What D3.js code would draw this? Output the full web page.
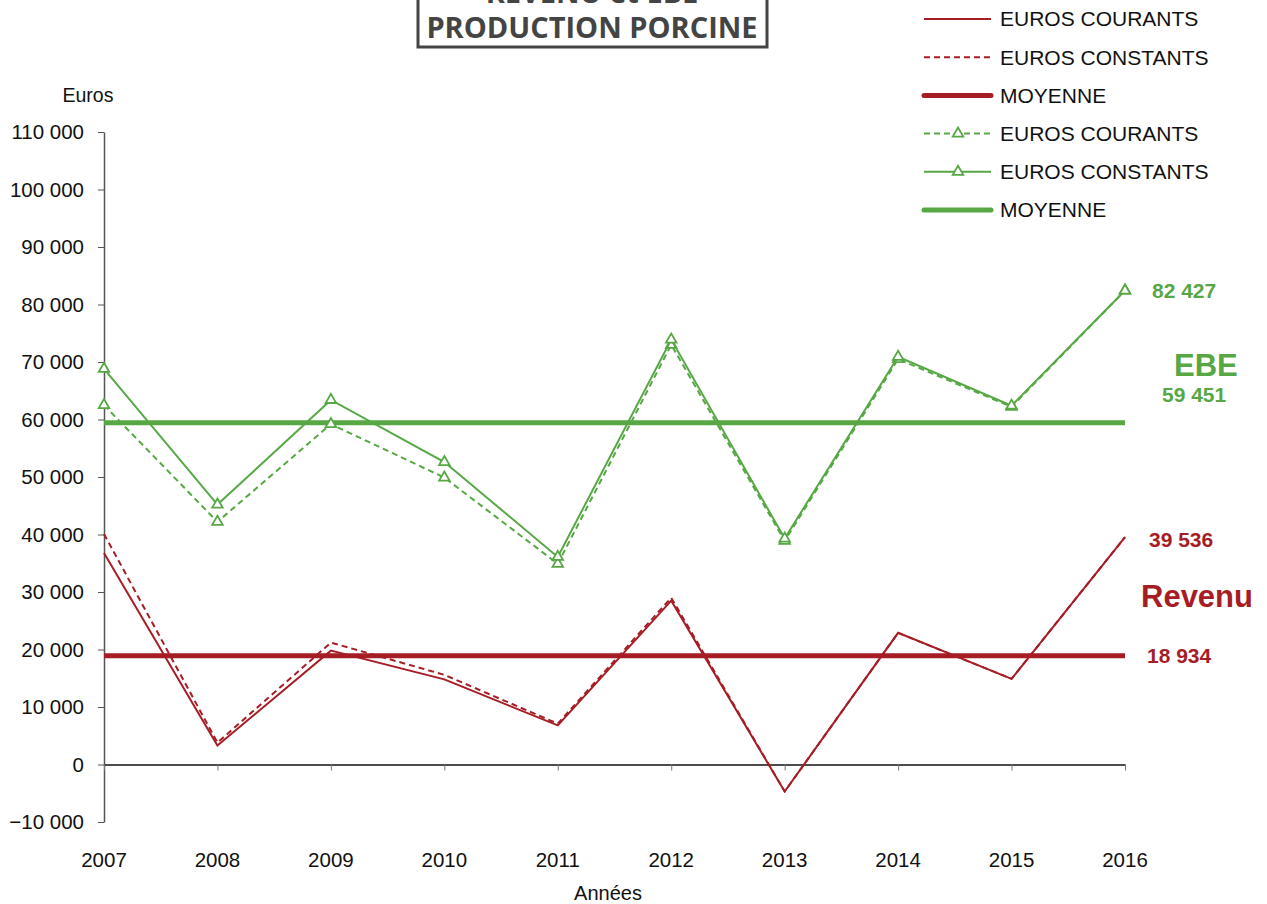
<!DOCTYPE html>
<html>
<head>
<meta charset="utf-8">
<script src="https://cdn.jsdelivr.net/npm/d3@7"></script>
<style>
  body { margin: 0; background: #fff; }
  svg text { font-family: Arial, "Liberation Sans", sans-serif; }
</style>
</head>
<body>
<div id="chart"></div>
<script>
// DATA
const years = ['2007', '2008', '2009', '2010', '2011', '2012', '2013', '2014', '2015', '2016'];
const revenuCourants = [36800, 3300, 19800, 14800, 6800, 28500, -4700, 22900, 14900, 39536];
const revenuConstants = [40100, 3800, 21200, 15600, 7100, 29000, -4700, 22900, 14900, 39536];
const revenuMoyenne = 18934;
const ebeCourants = [62500, 42200, 59200, 49900, 34900, 73000, 38900, 70500, 62200, 82427];
const ebeConstants = [68800, 45200, 63400, 52600, 36100, 73900, 39300, 70900, 62400, 82427];
const ebeMoyenne = 59451;
const yTicks = [-10000, 0, 10000, 20000, 30000, 40000, 50000, 60000, 70000, 80000, 90000, 100000, 110000];
const legendLabels = ['EUROS COURANTS', 'EUROS CONSTANTS', 'MOYENNE', 'EUROS COURANTS', 'EUROS CONSTANTS', 'MOYENNE'];

const RED = '#a61d25';
const GREEN = '#57a845';

const width = 1267;
const height = 904;
const svg = d3.select('#chart').append('svg')
  .attr('width', width)
  .attr('height', height);

// SCALES
const x = d3.scalePoint().domain(years).range([104, 1125]);
const y = d3.scaleLinear().domain([-10000, 110000]).range([822, 132]);
const fmt = v => d3.format(',')(v).replace(/,/g, ' ');

// AXES
const yAxis = svg.append('g')
  .attr('transform', 'translate(104,0)')
  .call(d3.axisLeft(y).tickValues(yTicks).tickSize(6).tickSizeOuter(0).tickPadding(14).tickFormat(fmt));
yAxis.select('.domain').attr('stroke', '#555').attr('stroke-width', 1.5);
yAxis.selectAll('.tick line').attr('stroke', '#555');
yAxis.selectAll('text').attr('font-size', 20.5).attr('fill', '#111');

const xAxis = svg.append('g')
  .attr('transform', `translate(0,${y(0)})`)
  .call(d3.axisBottom(x).tickSize(6).tickSizeOuter(0).tickFormat(''));
xAxis.select('.domain').attr('stroke', '#111').attr('stroke-width', 1.5);
xAxis.selectAll('.tick line').attr('stroke', '#777');

svg.append('g').selectAll('text')
  .data(years).enter()
  .append('text')
  .attr('x', d => x(d))
  .attr('y', 867)
  .attr('text-anchor', 'middle')
  .attr('font-size', 20.5)
  .attr('fill', '#111')
  .text(d => d);

svg.append('text').attr('x', 608).attr('y', 900).attr('text-anchor', 'middle')
  .attr('font-size', 20).attr('fill', '#111').text('Années');
svg.append('text').attr('x', 88).attr('y', 102).attr('text-anchor', 'middle')
  .attr('font-size', 19.5).attr('fill', '#111').text('Euros');

// LINES
const line = d3.line().x((d, i) => x(years[i])).y(d => y(d));
const tri = d3.symbol().type(d3.symbolTriangle).size(48);

function drawSeries(values, color, dash, markers) {
  svg.append('path')
    .datum(values)
    .attr('d', line)
    .attr('fill', 'none')
    .attr('stroke', color)
    .attr('stroke-width', 2)
    .attr('stroke-dasharray', dash);
  if (markers) {
    svg.append('g').selectAll('path')
      .data(values).enter()
      .append('path')
      .attr('d', tri)
      .attr('transform', (d, i) => `translate(${x(years[i])},${y(d)})`)
      .attr('fill', '#fff')
      .attr('stroke', color)
      .attr('stroke-width', 1.8);
  }
}

function drawMean(value, color) {
  svg.append('line')
    .attr('x1', x(years[0])).attr('x2', x(years[years.length - 1]))
    .attr('y1', y(value)).attr('y2', y(value))
    .attr('stroke', color)
    .attr('stroke-width', 5);
}

drawMean(ebeMoyenne, GREEN);
drawMean(revenuMoyenne, RED);
drawSeries(revenuConstants, RED, '6,4', false);
drawSeries(revenuCourants, RED, null, false);
drawSeries(ebeCourants, GREEN, '6,4', true);
drawSeries(ebeConstants, GREEN, null, true);

// ANNOTATIONS
const lastIdx = years.length - 1;
const notes = [
  { t: fmt(ebeConstants[lastIdx]), xx: 1152, v: ebeConstants[lastIdx], c: GREEN, s: 21 },
  { t: 'EBE', xx: 1174, v: 69500, c: GREEN, s: 31 },
  { t: fmt(ebeMoyenne), xx: 1162, v: ebeMoyenne + 4800, c: GREEN, s: 21 },
  { t: fmt(revenuCourants[lastIdx]), xx: 1149, v: revenuCourants[lastIdx] - 500, c: RED, s: 21 },
  { t: 'Revenu', xx: 1141, v: 29200, c: RED, s: 31 },
  { t: fmt(revenuMoyenne), xx: 1147, v: revenuMoyenne, c: RED, s: 21 }
];
svg.append('g').selectAll('text')
  .data(notes).enter()
  .append('text')
  .attr('x', d => d.xx)
  .attr('y', d => y(d.v))
  .attr('dy', '0.35em')
  .attr('font-size', d => d.s)
  .attr('font-weight', 'bold')
  .attr('fill', d => d.c)
  .text(d => d.t);

// LEGEND
const legendStyles = [
  { c: RED, w: 2, dash: null, m: false },
  { c: RED, w: 2, dash: '6,4', m: false },
  { c: RED, w: 5, dash: null, m: false },
  { c: GREEN, w: 2, dash: '6,4', m: true },
  { c: GREEN, w: 2, dash: null, m: true },
  { c: GREEN, w: 5, dash: null, m: false }
];
const legend = svg.append('g');
legendLabels.forEach((lab, i) => {
  const ly = 19 + i * 38.2;
  const st = legendStyles[i];
  legend.append('line')
    .attr('x1', 924).attr('x2', 991).attr('y1', ly).attr('y2', ly)
    .attr('stroke', st.c).attr('stroke-width', st.w)
    .attr('stroke-linecap', st.w > 3 ? 'round' : 'butt')
    .attr('stroke-dasharray', st.dash);
  if (st.m) {
    legend.append('path').attr('d', tri)
      .attr('transform', `translate(958,${ly})`)
      .attr('fill', '#fff').attr('stroke', st.c).attr('stroke-width', 1.8);
  }
  legend.append('text')
    .attr('x', 1000).attr('y', ly).attr('dy', '0.35em')
    .attr('font-size', 21).attr('fill', '#111')
    .text(lab);
});

// TITLE
const title = svg.append('g');
title.append('rect')
  .attr('x', 418).attr('y', -30).attr('width', 349).attr('height', 77)
  .attr('fill', '#fff').attr('stroke', '#444').attr('stroke-width', 3);
title.append('text')
  .attr('x', 592).attr('y', 3)
  .attr('text-anchor', 'middle')
  .attr('font-size', 29).attr('font-weight', 'bold').attr('fill', '#444')
  .style('font-family', '"Open Sans", "DejaVu Sans", sans-serif')
  .text('REVENU et EBE');
title.append('text')
  .attr('x', 592).attr('y', 38)
  .attr('text-anchor', 'middle')
  .attr('font-size', 29).attr('font-weight', 'bold').attr('fill', '#444')
  .style('font-family', '"Open Sans", "DejaVu Sans", sans-serif')
  .text('PRODUCTION PORCINE');
</script>
</body>
</html>
